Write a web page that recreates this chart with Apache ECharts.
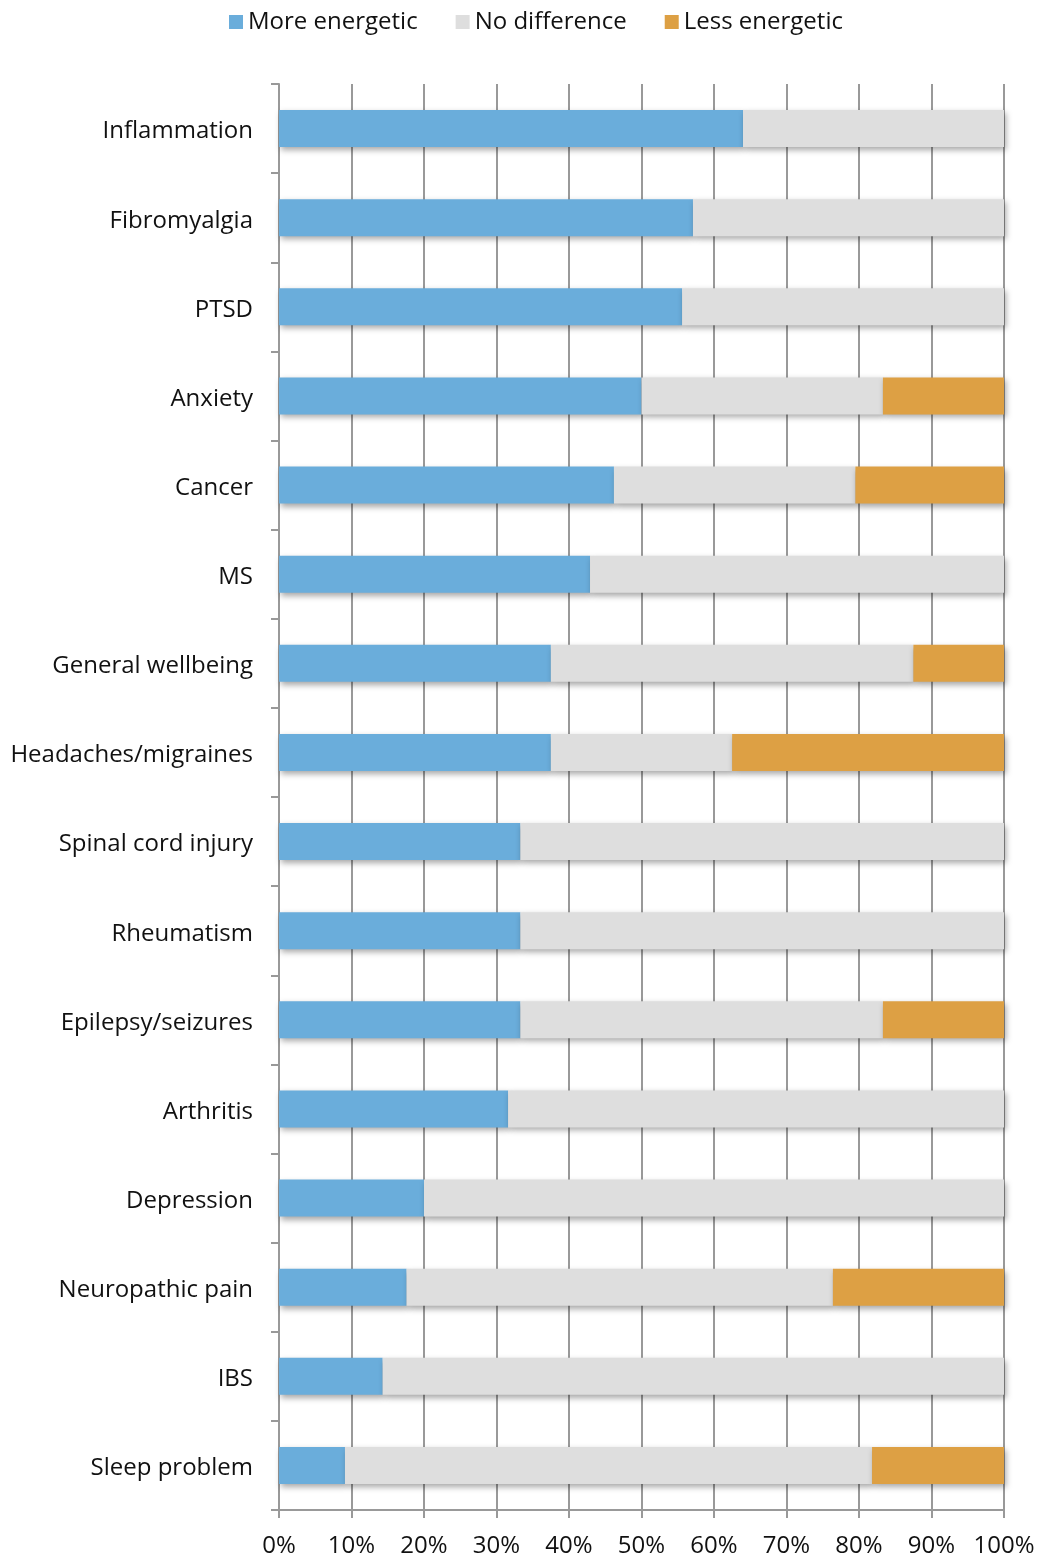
<!DOCTYPE html>
<html><head><meta charset="utf-8">
<script src="https://cdn.jsdelivr.net/npm/echarts@6/dist/echarts.min.js"></script>
<style>html,body{margin:0;padding:0;background:#fff}#c{width:1042px;height:1558px}</style>
</head><body><div id="c"></div>
<script>
const categories = ["Inflammation","Fibromyalgia","PTSD","Anxiety","Cancer","MS","General wellbeing","Headaches/migraines","Spinal cord injury","Rheumatism","Epilepsy/seizures","Arthritis","Depression","Neuropathic pain","IBS","Sleep problem"];
const moreEnergetic = [64.0,57.1,55.6,50.0,46.2,42.9,37.5,37.5,33.3,33.3,33.3,31.6,20.0,17.6,14.3,9.1];
const noDifference  = [36.0,42.9,44.4,33.3,33.3,57.1,50.0,25.0,66.7,66.7,50.0,68.4,80.0,58.8,85.7,72.7];
const lessEnergetic = [0,0,0,16.7,20.5,0,12.5,37.5,0,0,16.7,0,0,23.6,0,18.2];
const xTicks = ["0%","10%","20%","30%","40%","50%","60%","70%","80%","90%","100%"];

const font = "'Open Sans', 'Noto Sans', sans-serif";
const shadow = {shadowColor:'rgba(0,0,0,0.35)', shadowBlur:6, shadowOffsetX:2, shadowOffsetY:3};
function s(name, data, color){
  return {name, type:'bar', stack:'a', data, barWidth:37,
    itemStyle:Object.assign({color}, shadow), silent:true};
}
const chart = echarts.init(document.getElementById('c'), null, {renderer:'canvas'});
chart.setOption({
  animation:false,
  textStyle:{fontFamily:font},
  legend:{top:5, left:224, itemWidth:14, itemHeight:14, itemGap:38,
    icon:'rect', textStyle:{fontSize:24, color:'#111', fontFamily:font},
    data:['More energetic','No difference','Less energetic']},
  grid:{left:279, right:38, top:84, bottom:47, containLabel:false},
  xAxis:{type:'value', min:0, max:100, interval:10,
    axisLine:{show:true, lineStyle:{color:'#999', width:2}},
    axisTick:{show:true, length:8, lineStyle:{color:'#999', width:2}},
    splitLine:{show:true, lineStyle:{color:'#999', width:2}},
    axisLabel:{fontSize:24, color:'#111', margin:24, fontFamily:font,
      formatter:(v)=>xTicks[Math.round(v/10)]}},
  yAxis:{type:'category', data:categories, inverse:true,
    axisLine:{show:true, lineStyle:{color:'#999', width:2}},
    axisTick:{show:true, length:8, lineStyle:{color:'#999', width:2}},
    axisLabel:{fontSize:24, color:'#111', margin:26, fontFamily:font, verticalAlign:'top', lineHeight:6}},
  series:[
    s('More energetic', moreEnergetic, '#6aaddb'),
    s('No difference', noDifference, '#dedede'),
    s('Less energetic', lessEnergetic, '#dda044')
  ]
});
</script></body></html>
